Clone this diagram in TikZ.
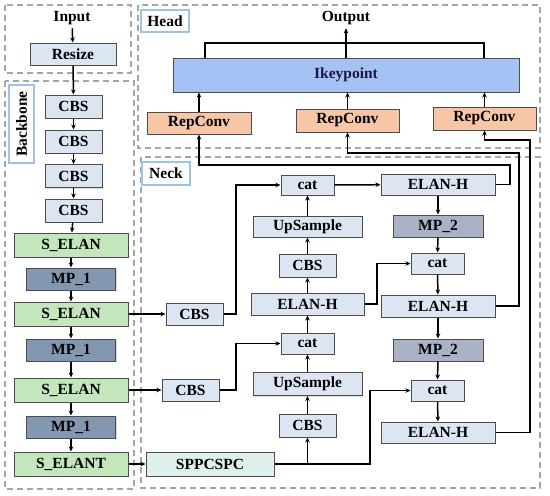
\documentclass[tikz,border=0pt]{standalone}
\usepackage{fontspec}
\setmainfont{Liberation Serif}
\usetikzlibrary{arrows.meta,shadows}

\definecolor{lightbox}{HTML}{DCE6F2}
\definecolor{elangreen}{HTML}{C3E6BD}
\definecolor{mpone}{HTML}{8497B0}
\definecolor{mptwo}{HTML}{AAB3C6}
\definecolor{sppc}{HTML}{DEF0EE}
\definecolor{repc}{HTML}{F6C6A6}
\definecolor{ikey}{HTML}{A4C2F4}
\definecolor{tagblue}{HTML}{9DC3E6}
\definecolor{navy}{HTML}{1A1A40}

\begin{document}
\begin{tikzpicture}[x=1pt,y=-1pt,
   font=\fontsize{15.5}{18}\selectfont\bfseries,
   blk/.style={draw=black!70,line width=1pt,inner sep=0pt,minimum height=22pt,
     drop shadow={shadow xshift=1.2pt,shadow yshift=-1.2pt,opacity=0.3}},
   plainbox/.style={blk,fill=lightbox},
   elanbox/.style={blk,fill=elangreen,minimum width=114pt,minimum height=24pt},
   mponebox/.style={blk,fill=mpone,minimum width=89pt},
   mptwobox/.style={blk,fill=mptwo,minimum width=90pt},
   repbox/.style={blk,fill=repc,minimum width=103pt,minimum height=23pt},
   panel/.style={draw=black!35,line width=1.1pt,dash pattern=on 6pt off 4pt},
   tagbox/.style={draw=tagblue,line width=2pt,fill=white,inner sep=0pt},
   wire/.style={line width=1.5pt,-{Stealth[length=5pt,width=4.5pt]}},
   line/.style={line width=1.5pt}]
   \useasboundingbox (0,0) rectangle (550,496);

   \draw[panel] (5,5) rectangle (131,73);
   \draw[panel] (5,81) rectangle (134,489);
   \draw[panel] (138,5) rectangle (540,148);
   \draw[panel] (141,157) rectangle (540,488);

   \node[tagbox,minimum width=48pt,minimum height=22pt] (headtag) at (165,21) {Head};
   \node[tagbox,minimum width=48pt,minimum height=23pt] (necktag) at (166,173.5) {Neck};
   \node[tagbox,rotate=90,minimum width=78pt,minimum height=25pt] (backtag) at (21.5,124) {Backbone};

   % backbone
   \node (input) at (72,18) {Input};
   \node[plainbox,minimum width=86pt] (resize) at (73,54) {Resize};
   \node[plainbox,minimum width=57pt,minimum height=23pt] (cbsa) at (73.5,106.5) {CBS};
   \node[plainbox,minimum width=57pt,minimum height=23pt] (cbsb) at (73.5,141.5) {CBS};
   \node[plainbox,minimum width=57pt,minimum height=23pt] (cbsc) at (73.5,176) {CBS};
   \node[plainbox,minimum width=57pt,minimum height=23pt] (cbsd) at (73.5,210.5) {CBS};
   \node[elanbox] (selana) at (71,245) {S\_ELAN};
   \node[mponebox] (mpa) at (71,279) {MP\_1};
   \node[elanbox] (selanb) at (71,314) {S\_ELAN};
   \node[mponebox] (mpb) at (71,350) {MP\_1};
   \node[elanbox] (selanc) at (71,390) {S\_ELAN};
   \node[mponebox] (mpc) at (71,427) {MP\_1};
   \node[elanbox] (selant) at (71,464) {S\_ELANT};

   \draw[wire] (input) -- (resize);
   \draw[wire] (resize) -- (cbsa);
   \draw[wire] (cbsa) -- (cbsb);
   \draw[wire] (cbsb) -- (cbsc);
   \draw[wire] (cbsc) -- (cbsd);
   \draw[wire] (cbsd) -- (selana);
   \draw[wire] (selana) -- (mpa);
   \draw[wire] (mpa) -- (selanb);
   \draw[wire] (selanb) -- (mpb);
   \draw[wire] (mpb) -- (selanc);
   \draw[wire] (selanc) -- (mpc);
   \draw[wire] (mpc) -- (selant);

   % head
   \node (output) at (346,18) {Output};
   \node[blk,fill=ikey,minimum width=346pt,minimum height=34pt,text=navy] (ikp) at (346,75) {Ikeypoint};
   \node[repbox,minimum width=104pt,minimum height=22pt] (repa) at (199,123) {RepConv};
   \node[repbox] (repb) at (347.5,120.5) {RepConv};
   \node[repbox] (repc) at (484.5,118.5) {RepConv};

   \draw[wire] (ikp.north) -- (output.south);
   \draw[line] ([xshift=-141pt]ikp.north) |- (346,43) -| ([xshift=138pt]ikp.north);
   \draw[wire] (repa.north) -- (repa.north |- ikp.south);
   \draw[wire] (repb.north) -- (repb.north |- ikp.south);
   \draw[wire] (repc.north) -- (repc.north |- ikp.south);

   % neck
   \node[plainbox,minimum width=53pt,minimum height=20pt] (cata) at (307.5,185) {cat};
   \node[plainbox,minimum width=109pt,minimum height=21pt] (upa) at (307.5,226.5) {UpSample};
   \node[plainbox,minimum width=57pt,minimum height=23pt] (cbsna) at (307.5,265.5) {CBS};
   \node[plainbox,minimum width=113pt] (elanha) at (307.5,304) {ELAN-H};
   \node[plainbox,minimum width=53pt,minimum height=21pt] (catc) at (307.5,343.5) {cat};
   \node[plainbox,minimum width=109pt,minimum height=23pt] (upb) at (307.5,384) {UpSample};
   \node[plainbox,minimum width=57pt,minimum height=23pt] (cbsnb) at (307.5,425.5) {CBS};
   \node[blk,fill=sppc,minimum width=128pt,minimum height=24pt] (spp) at (210,464) {SPPCSPC};
   \node[plainbox,minimum width=57pt] (cbsla) at (194.5,314) {CBS};
   \node[plainbox,minimum width=57pt] (cbslb) at (190.5,390) {CBS};
   \node[plainbox,minimum width=114pt,minimum height=21pt] (elanhb) at (438,184.5) {ELAN-H};
   \node[mptwobox] (mpta) at (438,226) {MP\_2};
   \node[plainbox,minimum width=53pt,minimum height=21pt] (catb) at (437.5,263.5) {cat};
   \node[plainbox,minimum width=114pt] (elanhc) at (438,306) {ELAN-H};
   \node[mptwobox] (mptb) at (438,350) {MP\_2};
   \node[plainbox,minimum width=53pt,minimum height=21pt] (catd) at (437.5,390.5) {cat};
   \node[plainbox,minimum width=114pt,minimum height=21pt] (elanhd) at (438,432.5) {ELAN-H};

   \draw[wire] (selanb.east) -- (selanb.east -| cbsla.west);
   \draw[wire] (selanc.east) -- (selanc.east -| cbslb.west);
   \draw[wire] (selant.east) -- (spp.west);
   \draw[wire] (cbsla.east) -- (236,314) |- (cata.west);
   \draw[wire] (cbslb.east) -- (236,390) |- (catc.west);
   \draw[wire] (spp.east -| cbsnb.south) -- (cbsnb.south);
   \draw[wire] (spp.east) -- (370,464) |- (catd.west);
   \draw[wire] (cbsnb) -- (upb);
   \draw[wire] (upb) -- (catc);
   \draw[wire] (catc) -- (elanha);
   \draw[wire] (elanha) -- (cbsna);
   \draw[wire] (cbsna) -- (upa);
   \draw[wire] (upa) -- (cata);
   \draw[wire] (cata) -- (elanhb);
   \draw[wire] (elanha.east) -- (377,304) |- (catb.west);
   \draw[wire] (elanhb) -- (mpta);
   \draw[wire] (mpta) -- (catb);
   \draw[wire] (catb) -- (elanhc);
   \draw[wire] (elanhc) -- (mptb);
   \draw[wire] (mptb) -- (catd);
   \draw[wire] (catd) -- (elanhd);

   \draw[wire] (elanhb.east) -| (510,165) -| (repa.south);
   \draw[wire] (elanhc.east) -| (519,153) -| (repb.south);
   \draw[wire] (elanhd.east) -| (530,140) -| (repc.south);
\end{tikzpicture}
\end{document}
